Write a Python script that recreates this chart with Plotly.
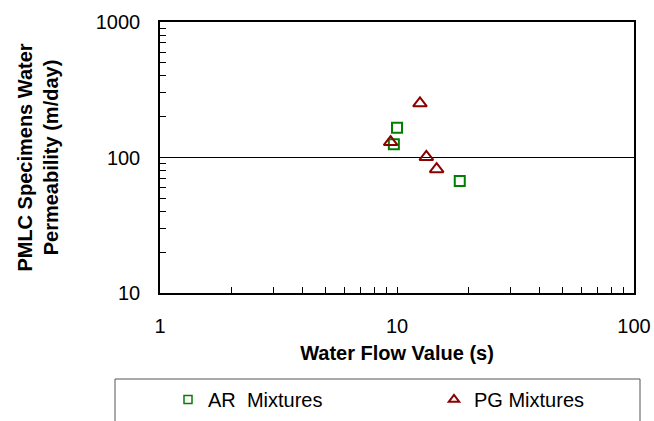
import plotly.graph_objects as go

ar_x = [10.0, 9.7, 18.4]
ar_y = [166, 125, 67]
pg_x = [12.5, 9.4, 13.3, 14.7]
pg_y = [251, 130, 101, 82]

x_ticks = [1, 2, 3, 4, 5, 6, 7, 8, 9, 10, 20, 30, 40, 50, 60, 70, 80, 90, 100]
y_ticks = [10, 20, 30, 40, 50, 60, 70, 80, 90, 100, 200, 300, 400, 500, 600, 700, 800, 900, 1000]
x_labels = [str(v) if v in (1, 10, 100) else "" for v in x_ticks]
y_labels = [str(v) if v in (10, 100, 1000) else "" for v in y_ticks]

W, H = 654, 421
L, R, T, B = 160, 20, 22, 128
pw, ph = W - L - R, H - T - B

def px2x(px):
    return (px - L) / pw

def py2y(py):
    return (H - B - py) / ph

font = "Liberation Sans, Arial, sans-serif"
GREEN = "#008000"
RED = "#8B0000"

fig = go.Figure()
fig.add_trace(go.Scatter(x=ar_x, y=ar_y, mode="markers", name="AR  Mixtures", showlegend=False,
                         marker=dict(symbol="square-open", size=10, color=GREEN,
                                     line=dict(width=2, color=GREEN))))
fig.add_trace(go.Scatter(x=pg_x, y=pg_y, mode="markers", name="PG Mixtures", showlegend=False,
                         marker=dict(symbol="triangle-up-open", size=12, color=RED,
                                     line=dict(width=2, color=RED))))
# legend entries (smaller symbols, as in the reference legend)
fig.add_trace(go.Scatter(x=[None], y=[None], mode="markers", name="AR  Mixtures", legend="legend",
                         marker=dict(symbol="square-open", size=8, color=GREEN,
                                     line=dict(width=1.5, color=GREEN))))
fig.add_trace(go.Scatter(x=[None], y=[None], mode="markers", name="PG Mixtures", legend="legend2",
                         marker=dict(symbol="triangle-up-open", size=9, color=RED,
                                     line=dict(width=2, color=RED))))

fig.add_hline(y=100, line=dict(color="black", width=1), layer="below")

fig.update_xaxes(type="log", range=[0, 2], tickvals=x_ticks, ticktext=x_labels,
                 showgrid=False, zeroline=False, showline=True, linecolor="black", linewidth=1.5,
                 mirror=True, ticks="inside", ticklen=6, tickcolor="black",
                 ticklabelstandoff=14,
                 tickfont=dict(family=font, size=20, color="black"),
                 title=dict(text="<b>Water Flow Value (s)</b>", font=dict(family=font, size=20, color="black"),
                            standoff=10))
fig.update_yaxes(type="log", range=[1, 3], tickvals=y_ticks, ticktext=y_labels,
                 showgrid=False, zeroline=False, showline=True, linecolor="black", linewidth=1.5,
                 mirror=True, ticks="inside", ticklen=6, tickcolor="black",
                 ticklabelstandoff=14,
                 tickfont=dict(family=font, size=20, color="black"),
                 title=dict(text="<b>PMLC Specimens Water<br>Permeability (m/day)</b>",
                            font=dict(family=font, size=20, color="black"), standoff=32))

fig.add_shape(type="rect", xref="paper", yref="paper",
              x0=px2x(115), x1=px2x(640), y0=py2y(379), y1=py2y(430),
              line=dict(color="#555555", width=1), fillcolor="rgba(0,0,0,0)")

legend_common = dict(orientation="h", xanchor="left", yanchor="top",
                     font=dict(family=font, size=20, color="black"),
                     bgcolor="rgba(0,0,0,0)", borderwidth=0)

fig.update_layout(
    width=W, height=H, margin=dict(l=L, r=R, t=T, b=B, autoexpand=False),
    paper_bgcolor="white", plot_bgcolor="white",
    showlegend=True,
    legend=dict(x=px2x(168), y=py2y(380), **legend_common),
    legend2=dict(x=px2x(434), y=py2y(380), **legend_common),
)

fig.write_html("out.html")
